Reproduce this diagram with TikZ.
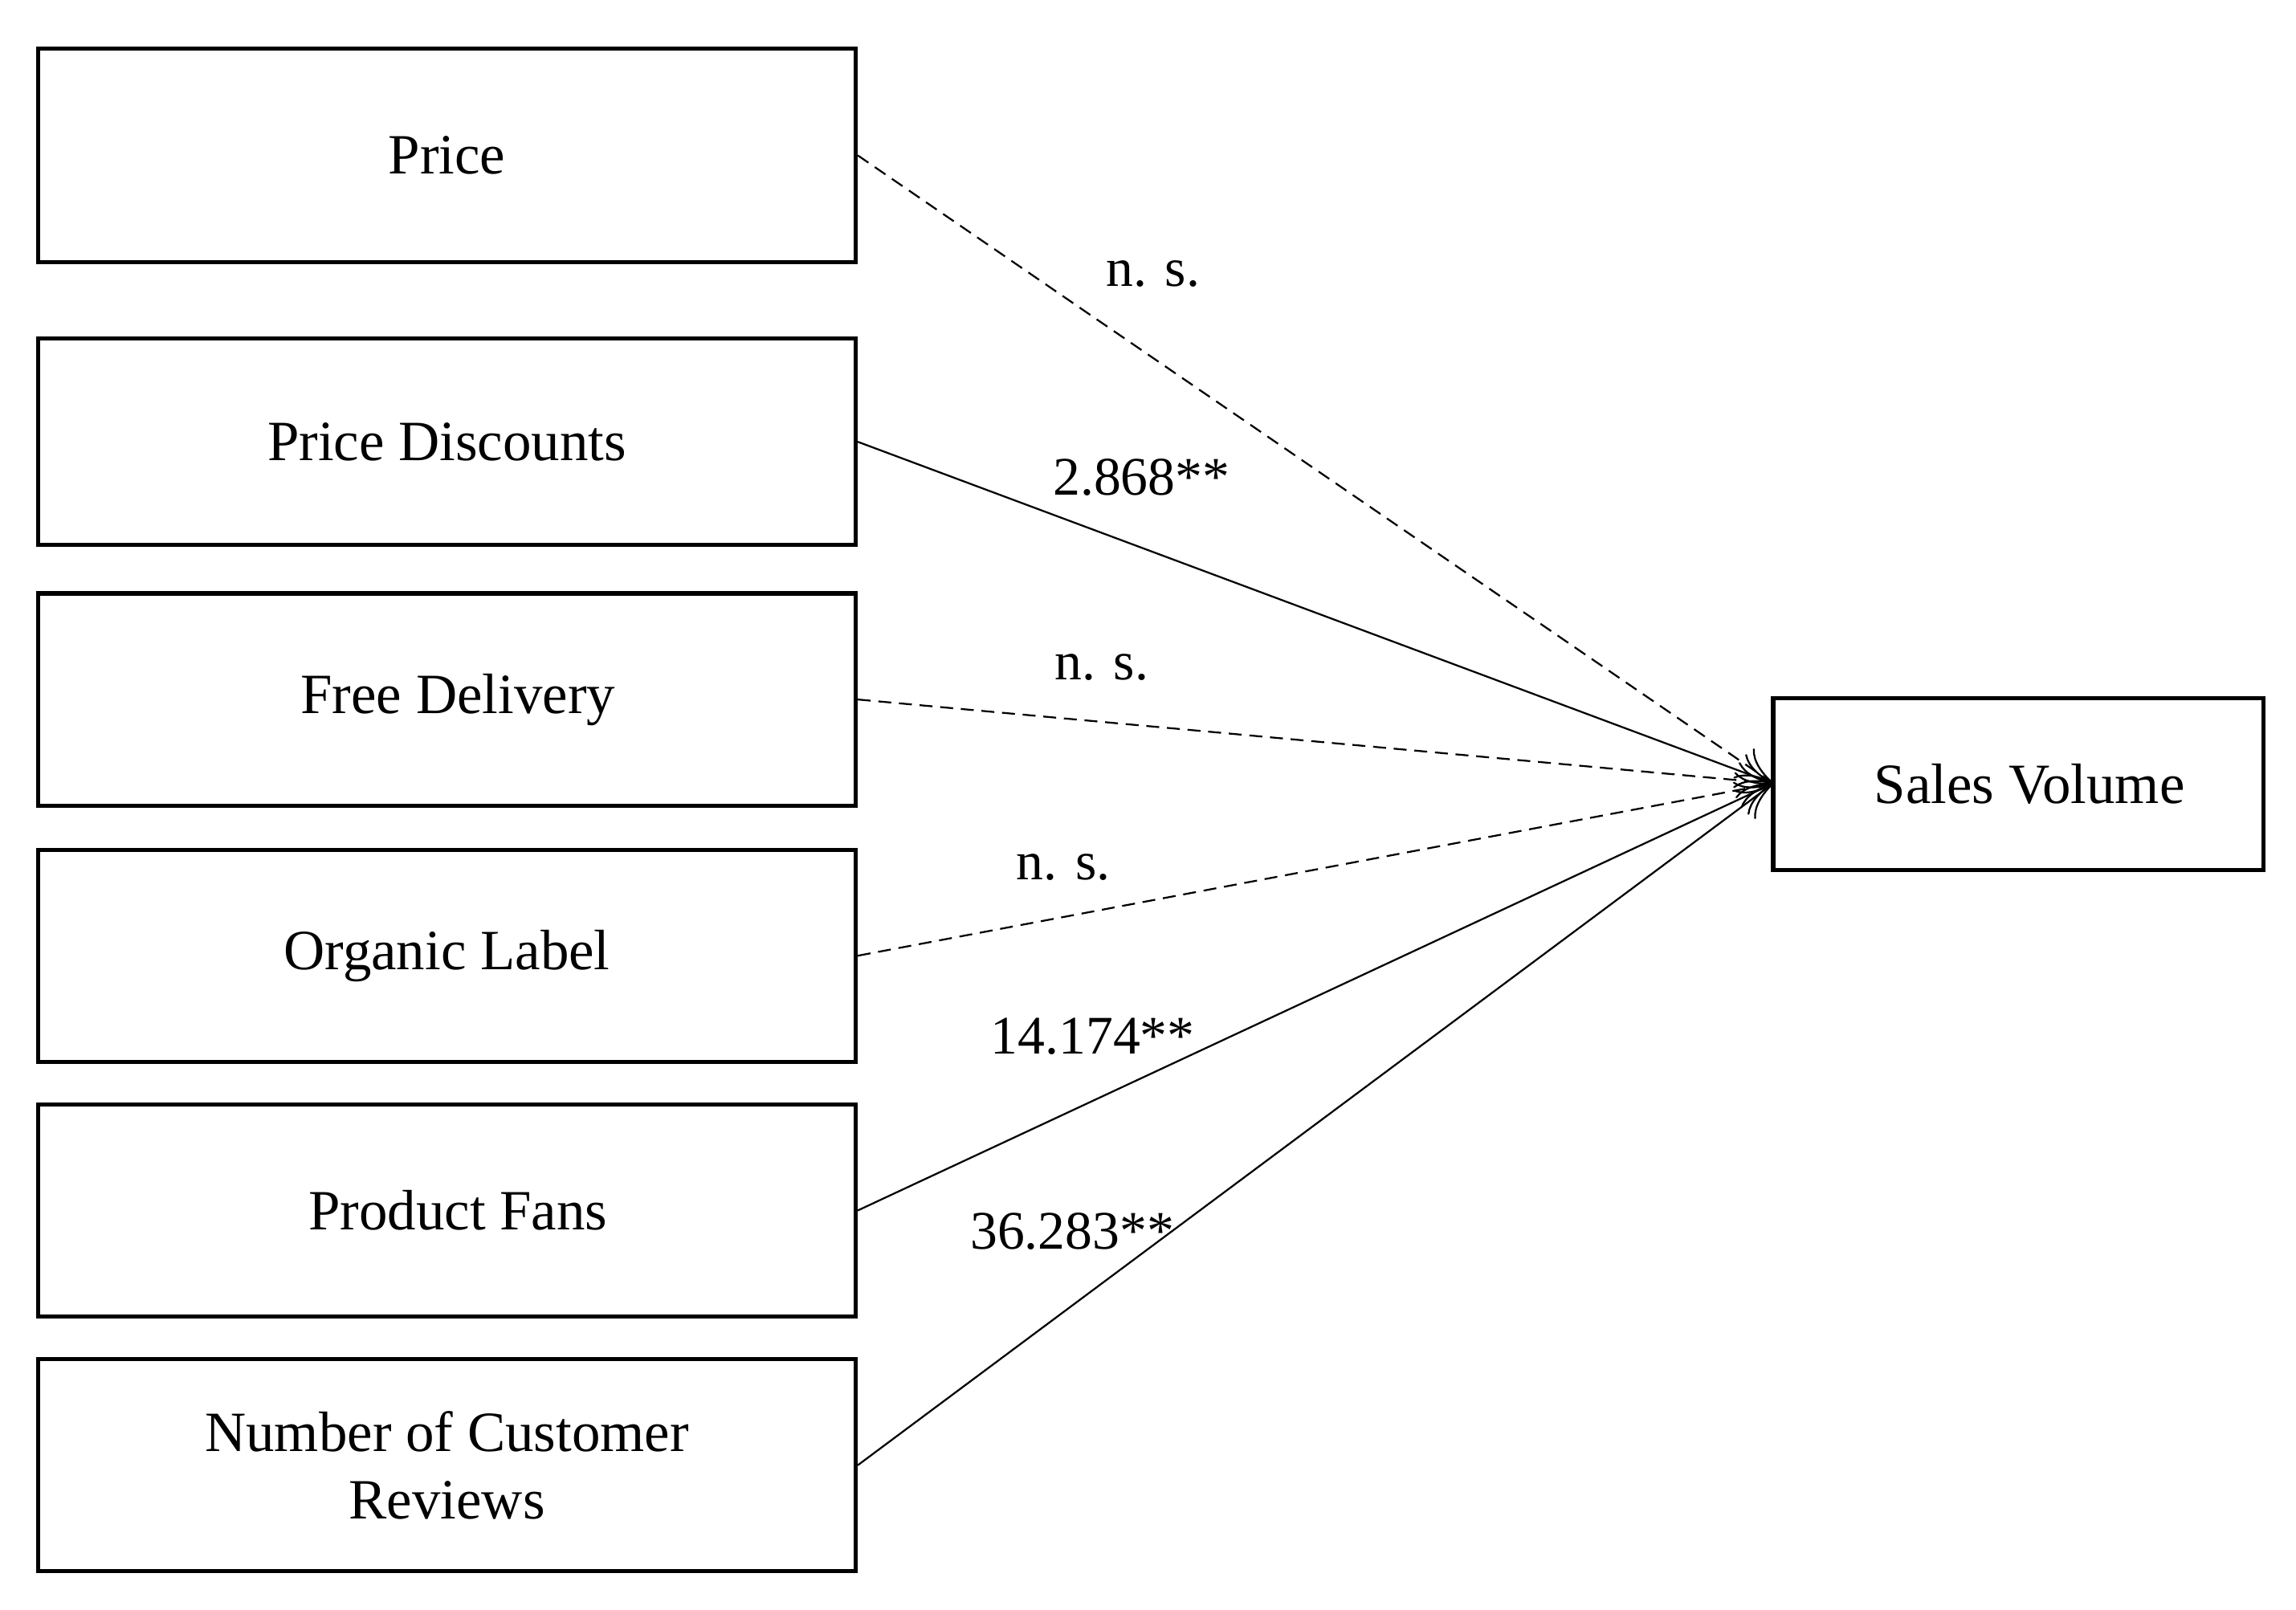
\documentclass[tikz,border=0pt]{standalone}
\usepackage{fontspec}
\setmainfont{Liberation Serif}
\usetikzlibrary{arrows.meta}
\begin{document}
\begin{tikzpicture}[x=0.02cm,y=-0.02cm,
  box/.style={draw,line width=1.6pt,inner sep=0pt,font=\fontsize{22}{26}\selectfont,align=center},
  conn/.style={line width=0.7pt,-{To[length=14pt,width=14pt]}},
  ns/.style={conn,dashed,dash pattern=on 5pt off 3pt},
  lab/.style={font=\fontsize{21}{24}\selectfont}]
\useasboundingbox (0,0) rectangle (1559,1093);
\node[box,minimum width=555*0.02cm,minimum height=145*0.02cm] (p) at (303.5,105.5) {Price};
\node[box,minimum width=555*0.02cm,minimum height=140*0.02cm] (pd) at (303.5,300) {Price Discounts};
\node[box,minimum width=555*0.02cm,minimum height=144*0.02cm] (fd) at (303.5,475) {\hspace*{0.3cm}Free Delivery};
\node[box,minimum width=555*0.02cm,minimum height=144*0.02cm] (ol) at (303.5,649) {Organic Label};
\node[box,minimum width=555*0.02cm,minimum height=144*0.02cm] (pf) at (303.5,822) {\hspace*{0.3cm}Product Fans};
\node[box,minimum width=555*0.02cm,minimum height=144*0.02cm] (nr) at (303.5,995) {Number of Customer\\Reviews};
\node[box,minimum width=333*0.02cm,minimum height=117*0.02cm] (sv) at (1370.5,532.5) {\hspace*{0.3cm}Sales Volume};
\coordinate (t) at (1204,532);
\draw[ns] (p.east) -- (t);
\draw[conn] (pd.east) -- (t);
\draw[ns] (fd.east) -- (t);
\draw[ns] (ol.east) -- (t);
\draw[conn] (pf.east) -- (t);
\draw[conn] (nr.east) -- (t);
\node[lab] (l1) at (783,186) {n. s.};
\node[lab] (l2) at (775,324) {2.868**};
\node[lab] (l3) at (748,453) {n. s.};
\node[lab] (l4) at (722,589) {n. s.};
\node[lab] (l5) at (742,704) {14.174**};
\node[lab] (l6) at (728,836) {36.283**};
\end{tikzpicture}
\end{document}
